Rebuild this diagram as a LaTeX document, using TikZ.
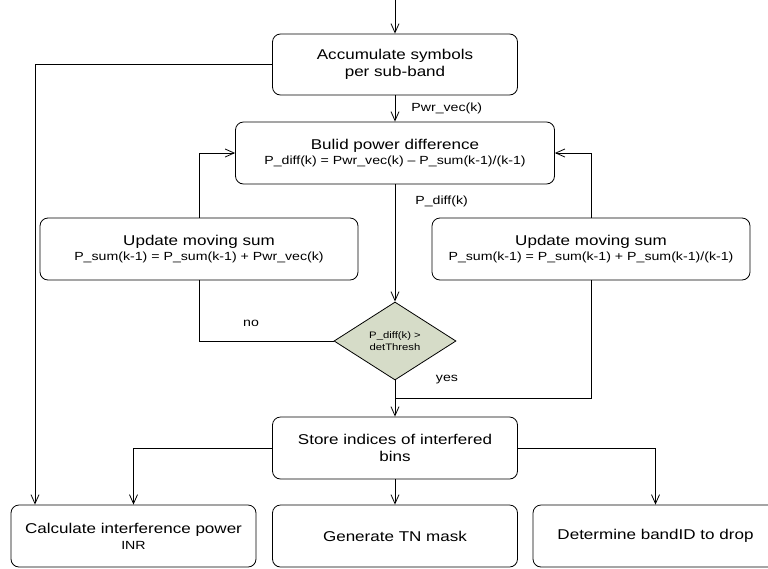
\documentclass[tikz,border=0pt]{standalone}
\usepackage{fontspec}
\setmainfont{Liberation Sans}[FakeStretch=1.2]
\usetikzlibrary{arrows.meta,shapes.geometric}
\definecolor{decfill}{RGB}{214,220,200}
\newcommand{\maintext}{\fontsize{14.2}{17.3}\selectfont}
\newcommand{\eqtext}{\fontsize{11.8}{14}\selectfont}
\newcommand{\dectext}{\fontsize{9.4}{11.5}\selectfont}
\begin{document}
\begin{tikzpicture}[x=1pt,y=-1pt,
  line width=0.8pt,
  arr/.style={-{Straight Barb[length=9pt,width=8pt,line width=0.8pt]}},
  procbox/.style={draw, rounded corners=8pt, align=center, inner sep=0pt,
    minimum width=245pt, minimum height=62pt, font=\maintext},
  widebox/.style={procbox, minimum width=318pt},
  decision/.style={draw, diamond, fill=decfill, inner sep=0pt,
    minimum width=122pt, minimum height=78pt, align=center, font=\dectext},
  lbl/.style={font=\eqtext, inner sep=0pt}]

\clip (0,0) rectangle (768,568);

% process steps
\node[procbox, minimum height=61pt] (acc) at (395,64.5) {Accumulate symbols\\per sub-band};
\node[widebox, minimum width=319pt] (diff) at (395,153)
  {Bulid power difference\\[-2pt]{\eqtext P\_diff(k) = Pwr\_vec(k) -- P\_sum(k-1)/(k-1)}};
\node[widebox] (updl) at (199,249)
  {Update moving sum\\[-2pt]{\eqtext P\_sum(k-1) = P\_sum(k-1) + Pwr\_vec(k)}};
\node[widebox] (updr) at (591,249)
  {Update moving sum\\[-2pt]{\eqtext P\_sum(k-1) = P\_sum(k-1) + P\_sum(k-1)/(k-1)}};
\node[decision] (dec) at (395,341) {P\_diff(k) \textgreater\\detThresh};
\node[procbox] (store) at (395,448) {Store indices of interfered\\bins};
\node[procbox] (inr) at (133.5,536)
  {Calculate interference power\\[-1pt]{\eqtext INR}};
\node[procbox] (mask) at (395,536) {Generate TN mask};
\node[procbox] (drop) at (655.5,536) {Determine bandID to drop};

% helper points
\coordinate (in) at (395,0);
\coordinate (lx) at (35,0);
\coordinate (join) at (395,398);

% connectors
\draw[arr] (in) -- (acc.north);
\draw[arr] (acc.south) -- (diff.north);
\draw[arr] (acc.west) -| (inr.north -| lx);
\draw[arr] (diff.south) -- (dec.north);
\draw[arr] (updl.north) |- (diff.west);
\draw[arr] (updr.north) |- (diff.east);
\draw (dec.west) -| (updl.south);
\draw (updr.south) |- (join);
\draw[arr] (dec.south) -- (store.north);
\draw[arr] (store.west) -| (inr.north);
\draw[arr] (store.east) -| (drop.north);
\draw[arr] (store.south) -- (mask.north);

% connector labels
\node[lbl, anchor=west] (lpwr) at (411,108) {Pwr\_vec(k)};
\node[lbl, anchor=west] (lpd) at (415,201) {P\_diff(k)};
\node[lbl] (lno) at (251,323) {no};
\node[lbl] (lyes) at (447,380) {yes};
\end{tikzpicture}
\end{document}
